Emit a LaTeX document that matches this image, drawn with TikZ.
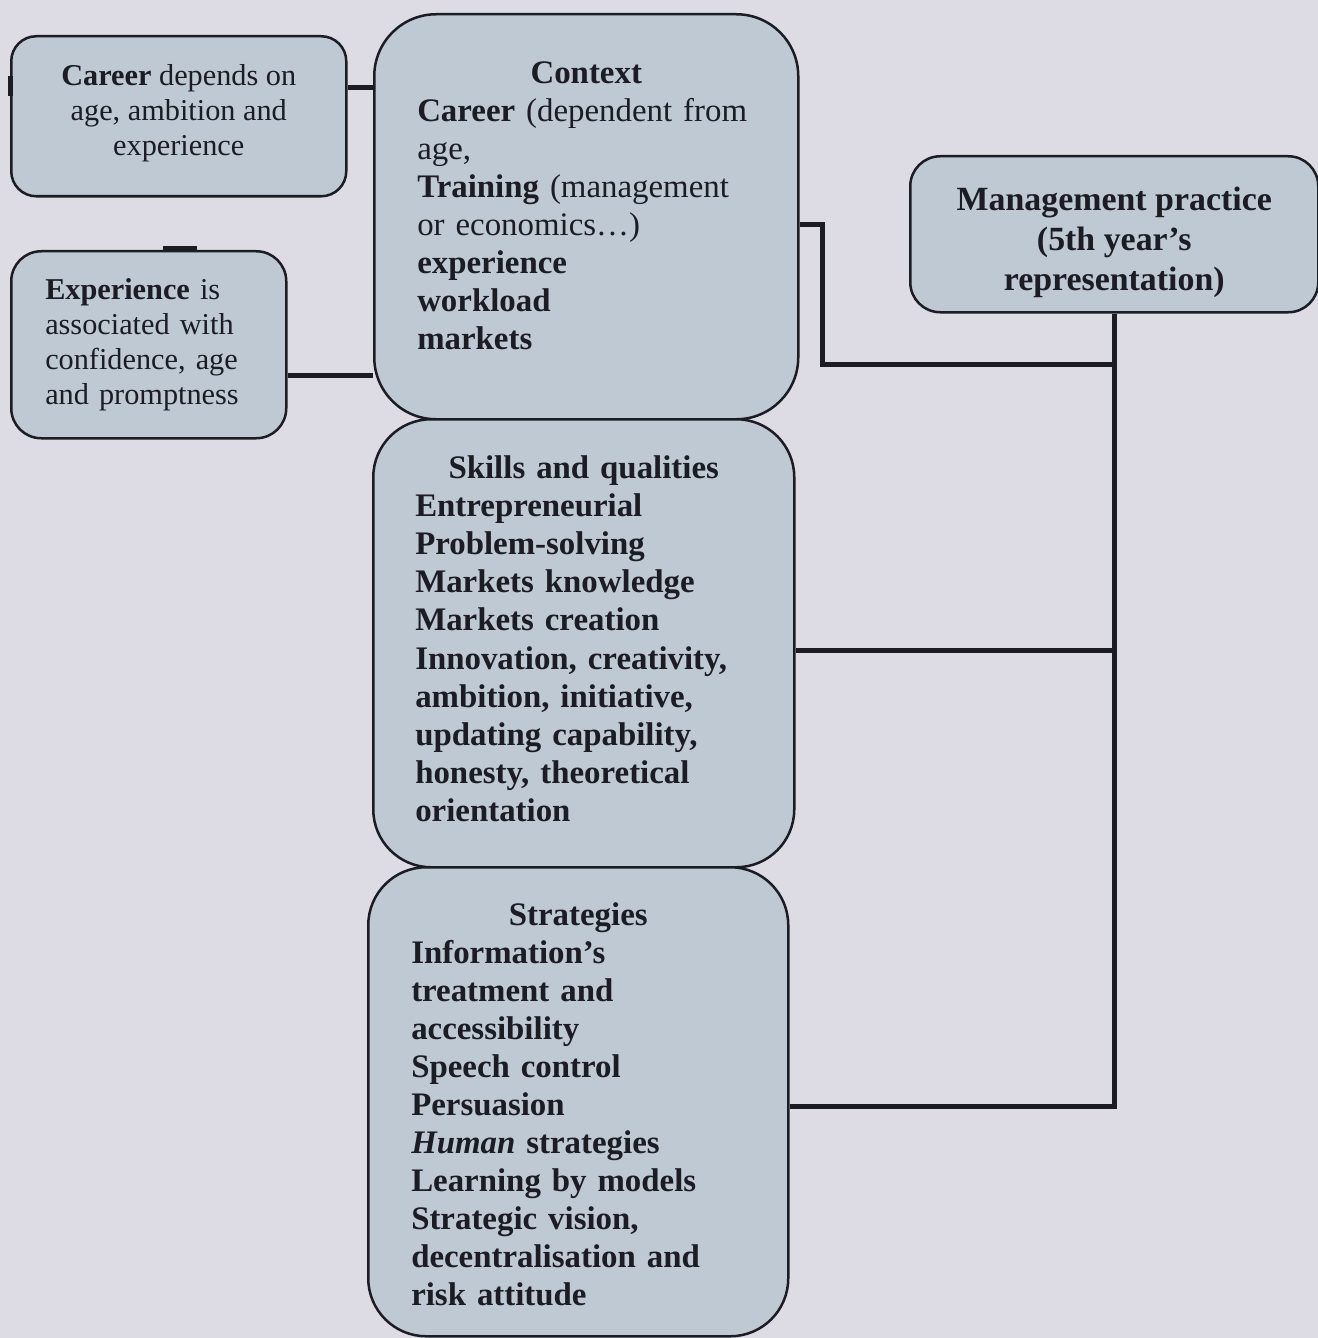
\documentclass[tikz,border=0pt]{standalone}
\usepackage{fontspec}
\setmainfont{Liberation Serif}
\usetikzlibrary{backgrounds}

\definecolor{paper}{RGB}{221,219,228}
\definecolor{boxfill}{RGB}{190,201,211}
\definecolor{ink}{RGB}{28,28,36}

\tikzset{
  card/.style={draw=ink, line width=2.5bp, fill=boxfill, rounded corners=#1,
    inner sep=0pt, anchor=north west},
  link/.style={draw=ink, line width=5bp},
  smalltext/.style={inner sep=0pt, text=ink, font=\fontsize{30.4}{35.3}\selectfont},
  bigtext/.style={inner sep=0pt, text=ink, font=\fontsize{33}{38.2}\selectfont},
  headtext/.style={inner sep=0pt, text=ink, font=\fontsize{34}{40}\selectfont\bfseries},
}

\begin{document}
\begin{tikzpicture}[x=1bp,y=-1bp]
\useasboundingbox (0,0) rectangle (1318,1338);

% boxes
\node[card=25bp, minimum width=335bp, minimum height=160bp] (career) at (10,35) {};
\node[card=30bp, minimum width=275bp, minimum height=187bp] (experience) at (10,250) {};
\node[card=62bp, minimum width=424bp, minimum height=405bp] (context) at (373,13) {};
\node[card=58bp, minimum width=421bp, minimum height=448bp] (skills) at (372,418) {};
\node[card=58bp, minimum width=420bp, minimum height=469bp] (strategies) at (367,866) {};
\node[card=30bp, minimum width=408bp, minimum height=156bp] (mgmt) at (909,155) {};

% box texts
\node[smalltext, align=center] (career-t) at ([yshift=3bp]career.center)
  {\textbf{Career} depends on\\age, ambition and\\experience};
\node[smalltext, align=left, text width=207bp] (experience-t) at (experience.center)
  {\textbf{Experience} is\\associated with\\confidence, age\\and promptness};
\node[bigtext, align=left, text width=338bp] (context-t) at ([yshift=11bp]context.center)
  {{\centering\textbf{Context}\par}%
   \textbf{Career} (dependent from\\age,\\\textbf{Training} (management\\or economics…)\\%
   \textbf{experience}\\\textbf{workload}\\\textbf{markets}};
\node[bigtext, align=left, text width=337bp, font=\fontsize{33}{38.2}\selectfont\bfseries]
  (skills-t) at ([yshift=4.5bp]skills.center)
  {{\centering Skills and qualities\par}%
   Entrepreneurial\\Problem-solving\\Markets knowledge\\Markets creation\\%
   Innovation, creativity,\\ambition, initiative,\\updating capability,\\%
   honesty, theoretical\\orientation};
\node[bigtext, align=left, text width=334bp, font=\fontsize{33}{38.2}\selectfont\bfseries]
  (strategies-t) at ([yshift=-2.5bp]strategies.center)
  {{\centering Strategies\par}%
   Information’s\\treatment and\\accessibility\\Speech control\\Persuasion\\%
   \textit{Human} strategies\\Learning by models\\Strategic vision,\\%
   decentralisation and\\risk attitude};
\node[headtext, align=center] (mgmt-t) at ([yshift=-8bp]mgmt.center)
  {Management practice\\(5th year’s\\representation)};

% connector heights
\coordinate (ya) at (0,88);
\coordinate (yb) at (0,375);
\coordinate (k1) at (822,225);
\coordinate (k2) at (822,364);
\coordinate (yc) at (0,650);
\coordinate (yd) at (0,1106);

\begin{pgfonlayer}{background}
  \fill[paper] (0,0) rectangle (1318,1338);
  \draw[link] (career.east |- ya) -- (context.west |- ya);
  \draw[link] (experience.east |- yb) -- (context.west |- yb);
  \draw[link] (context.east |- k1) -- (k1) -- (k2) -- (k2 -| mgmt.south);
  \draw[link] (skills.east |- yc) -- (yc -| mgmt.south);
  \draw[link] (mgmt.south) -- (mgmt.south |- yd) -- (strategies.east |- yd);
\end{pgfonlayer}

% short stubs on the left box borders
\draw[link] (career.west |- 0,76) -- (career.west |- 0,96);
\draw[link] (163,249) -- (197,249);
\end{tikzpicture}
\end{document}
